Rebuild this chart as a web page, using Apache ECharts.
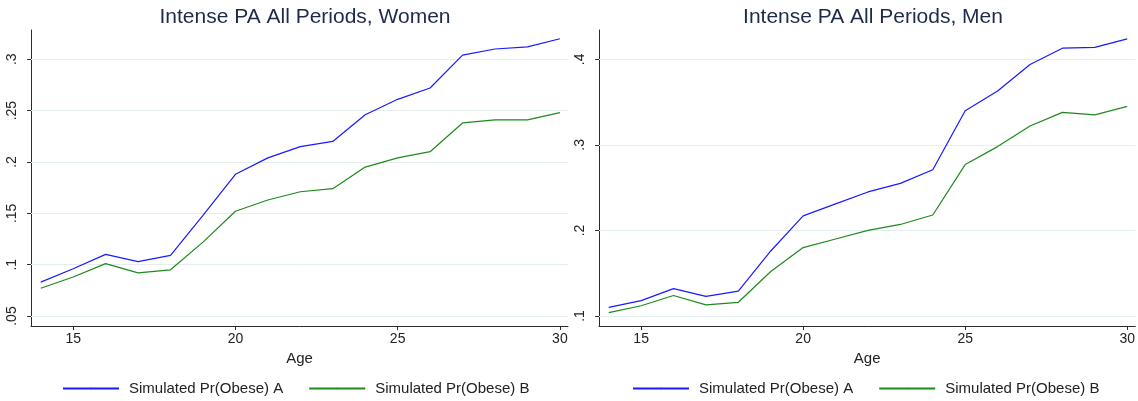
<!DOCTYPE html>
<html>

<head>
  <meta charset="utf-8">
  <title>Intense PA All Periods</title>
  <style>
    html, body { margin: 0; padding: 0; background: #fff; }
    #main { width: 1138px; height: 401px; }
  </style>
</head>

<body>
  <div id="main"></div>
</body>
<script src="https://cdn.jsdelivr.net/npm/echarts@6/dist/echarts.min.js"></script>
<script>
  // ages on the x axis
  const ages = [14, 15, 16, 17, 18, 19, 20, 21, 22, 23, 24, 25, 26, 27, 28, 29, 30]
  const xTicks = [15, 20, 25, 30]

  // women panel
  const womenA = [0.083, 0.096, 0.110, 0.103, 0.109, 0.148, 0.188, 0.204, 0.215, 0.220, 0.246, 0.261, 0.272, 0.304, 0.310, 0.312, 0.320]
  const womenB = [0.077, 0.088, 0.101, 0.092, 0.095, 0.122, 0.152, 0.163, 0.171, 0.174, 0.195, 0.204, 0.210, 0.238, 0.241, 0.241, 0.248]
  const womenTicks = [0.05, 0.1, 0.15, 0.2, 0.25, 0.3]

  // men panel
  const menA = [0.110, 0.118, 0.132, 0.123, 0.129, 0.176, 0.217, 0.231, 0.245, 0.255, 0.271, 0.340, 0.363, 0.394, 0.413, 0.414, 0.424]
  const menB = [0.104, 0.112, 0.124, 0.113, 0.116, 0.152, 0.180, 0.190, 0.200, 0.207, 0.218, 0.277, 0.298, 0.322, 0.338, 0.335, 0.345]
  const menTicks = [0.1, 0.2, 0.3, 0.4]

  const nameA = 'Simulated Pr(Obese) A'
  const nameB = 'Simulated Pr(Obese) B'
  const blue = '#1a1aff'
  const green = '#1e8a1e'
  const axisColor = '#2b2b2b'
  const gridColor = '#e4eeef'
  const textColor = '#222'
  const font = 'Liberation Sans, Arial, sans-serif'

  const chart = echarts.init(document.getElementById('main'))

  let pairs = (xs, ys) => xs.map((x, i) => [x, ys[i]])
  let stripZero = (v) => String(+v.toFixed(3)).replace(/^0\./, '.')

  let makeX = (gridIndex) => ({
    type: 'value',
    gridIndex,
    min: 13.7,
    max: 30.25,
    name: 'Age',
    nameLocation: 'middle',
    nameGap: 25,
    nameTextStyle: { color: textColor, fontSize: 15, fontFamily: font },
    axisLine: { show: true, onZero: false, lineStyle: { color: axisColor, width: 1 } },
    axisTick: { show: true, length: 4, customValues: xTicks, lineStyle: { color: axisColor } },
    axisLabel: { customValues: xTicks, color: textColor, fontSize: 14, fontFamily: font, margin: 6 },
    splitLine: { show: false },
  })

  let makeY = (gridIndex, min, max, ticks) => ({
    type: 'value',
    gridIndex,
    min,
    max,
    axisLine: { show: true, onZero: false, lineStyle: { color: axisColor, width: 1 } },
    axisTick: { show: true, length: 4, customValues: ticks, lineStyle: { color: axisColor } },
    axisLabel: {
      customValues: ticks,
      rotate: 90,
      color: textColor,
      fontSize: 14,
      fontFamily: font,
      margin: 12,
      formatter: stripZero,
    },
    splitLine: { show: false },
  })

  // gridlines drawn as markLines at the tick values
  let gridLines = (ticks) => ({
    silent: true,
    symbol: 'none',
    label: { show: false },
    lineStyle: { color: gridColor, type: 'solid', width: 1 },
    data: ticks.map((t) => ({ yAxis: t })),
  })

  let makeSeries = (name, color, data, idx, ticks) => {
    let s = {
      name,
      type: 'line',
      xAxisIndex: idx,
      yAxisIndex: idx,
      symbol: 'none',
      lineStyle: { color, width: 1.2 },
      itemStyle: { color },
      z: 5,
      data,
    }
    if (ticks) s.markLine = gridLines(ticks)
    return s
  }

  let makeLegend = (left) => ({
    left,
    top: 381,
    itemWidth: 56,
    itemHeight: 2,
    itemGap: 25,
    padding: 0,
    data: [nameA, nameB],
    textStyle: { color: textColor, fontSize: 15, fontFamily: font, padding: [0, 0, 0, 5] },
  })

  let option = {
    backgroundColor: '#fff',
    animation: false,
    title: [
      { text: 'Intense PA All Periods, Women', left: 300, top: 2, textAlign: 'center',
        textStyle: { color: '#1e2a4a', fontSize: 21, fontWeight: 'normal', fontFamily: font } },
      { text: 'Intense PA All Periods, Men', left: 868, top: 2, textAlign: 'center',
        textStyle: { color: '#1e2a4a', fontSize: 21, fontWeight: 'normal', fontFamily: font } },
    ],
    legend: [makeLegend(62), makeLegend(632)],
    grid: [
      { left: 31, top: 30, width: 537, height: 296, containLabel: false },
      { left: 599, top: 30, width: 538, height: 296, containLabel: false },
    ],
    xAxis: [makeX(0), makeX(1)],
    yAxis: [makeY(0, 0.0403, 0.3285, womenTicks), makeY(1, 0.0883, 0.4343, menTicks)],
    series: [
      makeSeries(nameA, blue, pairs(ages, womenA), 0, womenTicks),
      makeSeries(nameB, green, pairs(ages, womenB), 0),
      makeSeries(nameA, blue, pairs(ages, menA), 1, menTicks),
      makeSeries(nameB, green, pairs(ages, menB), 1),
    ],
  }

  chart.setOption(option)
</script>

</html>
